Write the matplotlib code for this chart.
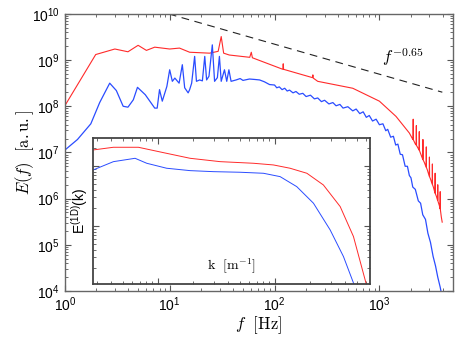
import numpy as np
import matplotlib
matplotlib.use('Agg')
import matplotlib.pyplot as plt
from matplotlib.ticker import LogLocator, NullFormatter

plt.rcParams['font.family'] = ['Liberation Sans', 'DejaVu Sans']
plt.rcParams['mathtext.fontset'] = 'custom'
plt.rcParams['mathtext.rm'] = 'Liberation Sans'
plt.rcParams['mathtext.it'] = 'Liberation Sans:italic'
plt.rcParams['mathtext.bf'] = 'Liberation Sans:bold'

# main spectra, frequency [Hz] and log10 of E(f)
f_red = [1.0, 1.97, 3.0, 4.0, 5.0, 6.0, 7.2, 10, 12.4, 15.5, 24, 29, 31, 32.7, 37, 58, 60, 61.5,
         120, 121, 122, 186, 230, 232, 234, 258, 557, 1000, 1440, 1930,
         2061, 2090, 2100, 2110, 2203, 2240, 2250, 2260, 2352, 2390, 2400, 2410,
         2513, 2590, 2600, 2610, 2685, 2790, 2800, 2810, 2866, 2990, 3000, 3010,
         3063, 3190, 3200, 3210, 3270, 3390, 3400, 3410, 3493, 3590, 3600, 3610,
         3727, 3790, 3800, 3810, 3894, 3970]
logE_red = [8.01, 9.12, 9.24, 9.18, 9.32, 9.21, 9.28, 9.24, 9.26, 9.17, 9.15, 9.19, 9.51, 9.15, 9.11, 9.06, 9.17, 9.05,
            8.80, 8.92, 8.80, 8.68, 8.62, 8.68, 8.61, 8.54, 8.39, 8.11, 7.78, 7.42,
            7.30, 7.28, 7.72, 7.27, 7.18, 7.16, 7.58, 7.15, 7.08, 7.05, 7.45, 7.04,
            6.93, 6.85, 7.28, 6.84, 6.78, 6.68, 7.12, 6.67, 6.62, 6.48, 6.90, 6.47,
            6.43, 6.31, 6.75, 6.30, 6.25, 6.12, 6.55, 6.11, 6.05, 5.96, 6.30, 5.95,
            5.85, 5.78, 6.15, 5.77, 5.60, 5.49]

f_blue = [1.0, 1.32, 1.77, 2.15, 2.68, 3.1, 3.6, 4.0, 4.5, 4.93, 5.85, 7.2, 7.6, 8.0, 8.5, 9.4,
          10.0, 10.6, 11.2, 12.3, 13.2, 13.9, 15.0, 15.5, 16.2, 17.3, 18.0, 19.3, 20.5, 21.6,
          22.5, 23.7, 25.5, 26.8, 28.5, 29.8, 31.0, 33.3, 35.0, 36.7, 38.5, 43, 47, 50, 57.6,
          65, 72, 80, 89.6, 100, 105, 111, 118, 125, 132, 139, 150, 160, 172, 186, 200, 220,
          240, 258, 280, 300, 330, 360, 386, 420, 450, 500, 557, 600, 650, 700, 750, 800,
          860, 930, 1000, 1080, 1150, 1200, 1280, 1360, 1430, 1500, 1580, 1660, 1760, 1850,
          1930, 2000, 2080, 2200, 2350, 2470, 2590, 2750, 2900, 3070, 3250, 3430, 3600, 3800, 3900]
logE_blue = [7.05, 7.28, 7.62, 8.08, 8.50, 8.34, 8.00, 7.98, 8.14, 8.41, 8.25, 7.96, 7.96, 8.36, 8.11, 8.43,
             8.79, 8.54, 8.61, 8.50, 8.90, 8.40, 8.29, 8.36, 8.50, 9.08, 8.54, 8.57, 8.55, 9.08,
             8.57, 8.65, 9.33, 8.54, 8.62, 9.08, 8.54, 8.79, 8.54, 8.79, 8.54, 8.57, 8.60, 8.56, 8.59,
             8.58, 8.57, 8.53, 8.47, 8.46, 8.40, 8.42, 8.36, 8.39, 8.33, 8.35, 8.29, 8.32, 8.26, 8.28, 8.21, 8.24,
             8.16, 8.18, 8.10, 8.13, 8.05, 8.08, 8.01, 8.04, 7.96, 7.99, 7.90, 7.94, 7.84, 7.88, 7.76, 7.80,
             7.68, 7.72, 7.60, 7.62, 7.47, 7.50, 7.33, 7.35, 7.16, 7.18, 6.96, 6.95, 6.70, 6.70,
             6.50, 6.45, 6.25, 6.20, 5.95, 5.90, 5.65, 5.55, 5.25, 5.05, 4.75, 4.54, 4.30, 4.08, 3.95]

# reference power law f^-0.65
f_ref = [9.8, 3980]
slope_ref = -0.65
logE_ref0 = 10.0

# inset spectra E^(1D)(k), log10 values
k_red = [0.28, 0.418, 0.683, 1.12, 1.89, 3.41, 6.57, 9.73, 13.5, 18.8, 26.0, 36.2, 47.0, 61.0]
logEk_red = [1.267, 1.312, 1.312, 1.222, 1.128, 1.072, 1.045, 1.017, 0.962, 0.878, 0.683, 0.322, -0.178, -1.0]
k_blue = [0.28, 0.418, 0.64, 0.805, 1.19, 1.89, 2.99, 5.05, 8.0, 11.1, 15.4, 21.4, 29.7, 38.6, 48.0]
logEk_blue = [0.933, 1.072, 1.128, 1.045, 0.962, 0.922, 0.905, 0.895, 0.878, 0.822, 0.655, 0.378, -0.067, -0.512, -1.0]

red = '#ff2a2a'
blue = '#2a4cff'

fig = plt.figure(figsize=(4.63, 3.48), dpi=100)
ax = fig.add_axes([0.140, 0.164, 0.838, 0.796])

ax.loglog(f_red, np.power(10.0, logE_red), color=red, lw=0.8)
ax.loglog(f_blue, np.power(10.0, logE_blue), color=blue, lw=0.9)
E_ref = [10**logE_ref0 * (f / f_ref[0])**slope_ref for f in f_ref]
ax.loglog(f_ref, E_ref, color='#222222', lw=0.8, ls=(0, (7, 5)))
ax.text(1070, 10**9.07, r'$f^{-0.65}$', fontsize=12, va='center', ha='left',
        math_fontfamily='cm')

ax.set_xlim(1, 10**3.7)
ax.set_ylim(1e4, 1e10)
ax.set_xlabel(r'$f\ \ [\mathrm{Hz}]$', fontsize=12, labelpad=0, math_fontfamily='cm')
ax.set_ylabel(r'$E(f)\ \ [\mathrm{a.u.}]$', fontsize=12, labelpad=-3, math_fontfamily='cm')
ax.yaxis.set_major_locator(LogLocator(base=10, numticks=10))
ax.yaxis.set_minor_locator(LogLocator(base=10, subs=np.arange(2, 10), numticks=20))
ax.tick_params(which='both', direction='in', top=True, right=True, labelsize=10, color='#555555')
ax.tick_params(which='major', length=4)
ax.tick_params(which='minor', length=2)
for s in ax.spines.values():
    s.set_color('#666666')
    s.set_linewidth(1.0)

# inset
axi = fig.add_axes([0.201, 0.184, 0.598, 0.42])
axi.loglog(k_red, np.power(10.0, logEk_red), color=red, lw=0.7)
axi.loglog(k_blue, np.power(10.0, logEk_blue), color=blue, lw=0.7)
axi.set_xlim(0.28, 65)
axi.set_ylim(10**-0.97, 10**1.47)
axi.xaxis.set_minor_formatter(NullFormatter())
axi.yaxis.set_minor_formatter(NullFormatter())
axi.set_xticklabels([])
axi.set_yticklabels([])
axi.tick_params(which='both', direction='in', top=True, right=True, color='#555555')
axi.tick_params(which='major', length=4)
axi.tick_params(which='minor', length=2)
axi.set_ylabel(r'E$^{\mathregular{(1D)}}$(k)', fontsize=10, labelpad=-1)
axi.text(0.5, 0.12, r'$\mathrm{k}\ \ [\mathrm{m}^{-1}]$', transform=axi.transAxes,
         fontsize=10, ha='center', va='center', math_fontfamily='cm')
for s in axi.spines.values():
    s.set_color('#444444')
    s.set_linewidth(1.3)

fig.savefig('out.png', dpi=100)
